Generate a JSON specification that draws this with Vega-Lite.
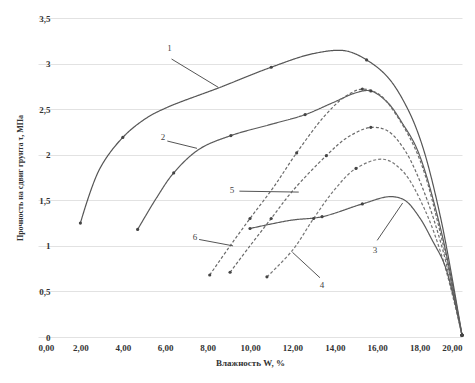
{
  "$schema": "https://vega.github.io/schema/vega-lite/v6.json",
  "autosize": {"type": "none"},
  "width": 424,
  "height": 319,
  "padding": {"left": 38, "top": 18, "right": 13, "bottom": 46},
  "background": "white",
  "config": {
    "view": {"stroke": null},
    "font": "Liberation Serif",
    "axis": {"labelFont": "Liberation Serif", "titleFont": "Liberation Serif", "labelColor": "#333", "titleColor": "#333", "labelFontWeight": "bold", "titleFontWeight": "bold"}
  },
  "datasets": {
    "curves": [
      {"s": "1", "x": 2.0, "y": 1.25, "m": 1},
      {"s": "1", "x": 2.9, "y": 1.84, "m": 0},
      {"s": "1", "x": 4.0, "y": 2.19, "m": 1},
      {"s": "1", "x": 5.1, "y": 2.4, "m": 0},
      {"s": "1", "x": 6.1, "y": 2.52, "m": 0},
      {"s": "1", "x": 8.6, "y": 2.74, "m": 0},
      {"s": "1", "x": 11.0, "y": 2.96, "m": 1},
      {"s": "1", "x": 13.0, "y": 3.11, "m": 0},
      {"s": "1", "x": 14.5, "y": 3.14, "m": 0},
      {"s": "1", "x": 15.5, "y": 3.04, "m": 1},
      {"s": "1", "x": 16.5, "y": 2.85, "m": 0},
      {"s": "1", "x": 17.4, "y": 2.52, "m": 0},
      {"s": "1", "x": 18.1, "y": 2.12, "m": 0},
      {"s": "1", "x": 19.0, "y": 1.3, "m": 0},
      {"s": "1", "x": 20.0, "y": 0.02, "m": 1},

      {"s": "2", "x": 4.7, "y": 1.18, "m": 1},
      {"s": "2", "x": 5.6, "y": 1.53, "m": 0},
      {"s": "2", "x": 6.4, "y": 1.8, "m": 1},
      {"s": "2", "x": 7.6, "y": 2.06, "m": 0},
      {"s": "2", "x": 9.1, "y": 2.21, "m": 1},
      {"s": "2", "x": 11.1, "y": 2.34, "m": 0},
      {"s": "2", "x": 12.6, "y": 2.44, "m": 1},
      {"s": "2", "x": 13.9, "y": 2.57, "m": 0},
      {"s": "2", "x": 15.0, "y": 2.68, "m": 0},
      {"s": "2", "x": 15.7, "y": 2.7, "m": 1},
      {"s": "2", "x": 16.5, "y": 2.57, "m": 0},
      {"s": "2", "x": 17.2, "y": 2.34, "m": 0},
      {"s": "2", "x": 17.9, "y": 2.05, "m": 0},
      {"s": "2", "x": 19.0, "y": 1.18, "m": 0},
      {"s": "2", "x": 20.0, "y": 0.02, "m": 1},

      {"s": "3", "x": 8.1, "y": 0.68, "m": 1},
      {"s": "3", "x": 9.0, "y": 0.98, "m": 0},
      {"s": "3", "x": 10.0, "y": 1.3, "m": 1},
      {"s": "3", "x": 11.1, "y": 1.64, "m": 0},
      {"s": "3", "x": 12.2, "y": 2.02, "m": 1},
      {"s": "3", "x": 13.5, "y": 2.42, "m": 0},
      {"s": "3", "x": 14.5, "y": 2.64, "m": 0},
      {"s": "3", "x": 15.3, "y": 2.72, "m": 1},
      {"s": "3", "x": 16.1, "y": 2.66, "m": 0},
      {"s": "3", "x": 17.0, "y": 2.4, "m": 0},
      {"s": "3", "x": 18.0, "y": 1.95, "m": 0},
      {"s": "3", "x": 19.0, "y": 1.12, "m": 0},
      {"s": "3", "x": 20.0, "y": 0.02, "m": 1},

      {"s": "4", "x": 9.06, "y": 0.71, "m": 1},
      {"s": "4", "x": 10.0, "y": 1.0, "m": 0},
      {"s": "4", "x": 11.0, "y": 1.3, "m": 1},
      {"s": "4", "x": 12.0, "y": 1.6, "m": 0},
      {"s": "4", "x": 13.6, "y": 1.99, "m": 1},
      {"s": "4", "x": 14.6, "y": 2.19, "m": 0},
      {"s": "4", "x": 15.7, "y": 2.3, "m": 1},
      {"s": "4", "x": 16.5, "y": 2.26, "m": 0},
      {"s": "4", "x": 17.3, "y": 2.05, "m": 0},
      {"s": "4", "x": 18.2, "y": 1.6, "m": 0},
      {"s": "4", "x": 19.1, "y": 0.95, "m": 0},
      {"s": "4", "x": 20.0, "y": 0.02, "m": 1},

      {"s": "5", "x": 10.8, "y": 0.66, "m": 1},
      {"s": "5", "x": 12.0, "y": 0.95, "m": 0},
      {"s": "5", "x": 13.0, "y": 1.3, "m": 1},
      {"s": "5", "x": 14.0, "y": 1.62, "m": 0},
      {"s": "5", "x": 15.0, "y": 1.85, "m": 1},
      {"s": "5", "x": 16.3, "y": 1.95, "m": 0},
      {"s": "5", "x": 17.2, "y": 1.82, "m": 0},
      {"s": "5", "x": 18.2, "y": 1.42, "m": 0},
      {"s": "5", "x": 19.1, "y": 0.85, "m": 0},
      {"s": "5", "x": 20.0, "y": 0.02, "m": 1},

      {"s": "6", "x": 10.0, "y": 1.19, "m": 1},
      {"s": "6", "x": 11.9, "y": 1.28, "m": 0},
      {"s": "6", "x": 13.4, "y": 1.32, "m": 1},
      {"s": "6", "x": 15.3, "y": 1.46, "m": 1},
      {"s": "6", "x": 16.6, "y": 1.54, "m": 0},
      {"s": "6", "x": 17.3, "y": 1.5, "m": 0},
      {"s": "6", "x": 18.0, "y": 1.31, "m": 0},
      {"s": "6", "x": 18.6, "y": 1.06, "m": 0},
      {"s": "6", "x": 19.2, "y": 0.78, "m": 0},
      {"s": "6", "x": 20.0, "y": 0.02, "m": 1}
    ],
    "labels": [
      {"t": "1", "x": 6.2, "y": 3.17},
      {"t": "2", "x": 5.9, "y": 2.19},
      {"t": "5", "x": 9.15, "y": 1.61},
      {"t": "6", "x": 7.4, "y": 1.1},
      {"t": "4", "x": 13.4, "y": 0.57},
      {"t": "3", "x": 15.9, "y": 0.95}
    ],
    "leaders": [
      {"x": 6.3, "y": 3.05, "x2": 8.5, "y2": 2.74},
      {"x": 6.1, "y": 2.15, "x2": 7.5, "y2": 2.07},
      {"x": 9.5, "y": 1.6, "x2": 12.3, "y2": 1.59},
      {"x": 7.6, "y": 1.07, "x2": 9.2, "y2": 1.0},
      {"x": 13.3, "y": 0.65, "x2": 12.0, "y2": 0.93},
      {"x": 16.0, "y": 1.06, "x2": 17.2, "y2": 1.47}
    ]
  },
  "layer": [
    {
      "data": {"name": "curves"},
      "mark": {"type": "line", "interpolate": "catmull-rom", "strokeWidth": 1.2},
      "encoding": {
        "x": {"field": "x", "type": "quantitative", "scale": {"domain": [0, 20], "nice": false},
          "axis": {"values": [0, 2, 4, 6, 8, 10, 12, 14, 16, 18, 20], "labelExpr": "replace(format(datum.value, '.2f'), '.', ',')", "grid": false, "domain": false, "ticks": false, "labelFontSize": 9, "labelPadding": 6, "title": "Влажность W, %", "titleFontSize": 9, "titlePadding": 6}},
        "y": {"field": "y", "type": "quantitative", "scale": {"domain": [0, 3.5], "nice": false},
          "axis": {"values": [0, 0.5, 1, 1.5, 2, 2.5, 3, 3.5], "labelExpr": "replace(toString(datum.value), '.', ',')", "grid": true, "gridColor": "#e2e2e2", "domain": false, "ticks": false, "offset": -14, "labelFontSize": 9, "labelPadding": 2, "title": "Прочность на сдвиг грунта τ, МПа", "titleFontSize": 8, "titlePadding": 14}},
        "detail": {"field": "s"},
        "color": {"field": "s", "type": "nominal", "scale": {"domain": ["1","2","3","4","5","6"], "range": ["#555555","#5a5a5a","#6a6a6a","#6a6a6a","#777777","#5a5a5a"]}, "legend": null},
        "strokeDash": {"field": "s", "type": "nominal", "scale": {"domain": ["1","2","3","4","5","6"], "range": [[1,0],[1,0],[3,2],[3,2],[3,2],[1,0]]}, "legend": null}
      }
    },
    {
      "data": {"name": "curves"},
      "transform": [{"filter": "datum.m == 1"}],
      "mark": {"type": "point", "filled": true, "size": 10, "color": "#444", "opacity": 1},
      "encoding": {
        "x": {"field": "x", "type": "quantitative"},
        "y": {"field": "y", "type": "quantitative"}
      }
    },
    {
      "data": {"name": "leaders"},
      "mark": {"type": "rule", "color": "#555", "strokeWidth": 1},
      "encoding": {
        "x": {"field": "x", "type": "quantitative"},
        "y": {"field": "y", "type": "quantitative"},
        "x2": {"field": "x2"},
        "y2": {"field": "y2"}
      }
    },
    {
      "data": {"name": "labels"},
      "mark": {"type": "text", "fontSize": 9, "font": "Liberation Serif", "color": "#444"},
      "encoding": {
        "x": {"field": "x", "type": "quantitative"},
        "y": {"field": "y", "type": "quantitative"},
        "text": {"field": "t"}
      }
    }
  ]
}
